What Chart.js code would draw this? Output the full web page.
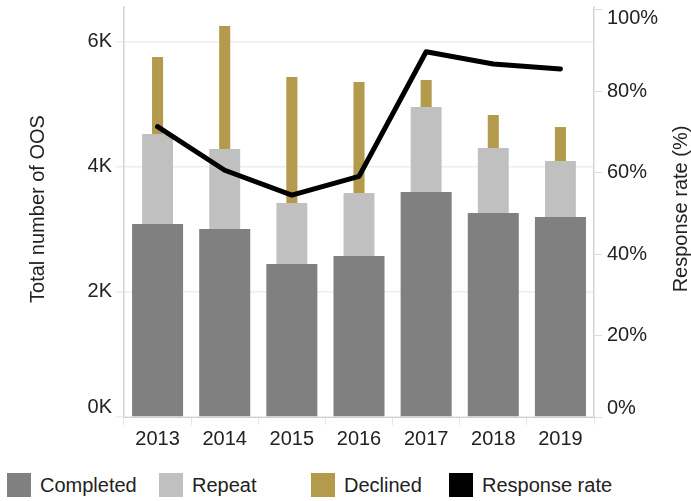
<!DOCTYPE html>
<html>
<head>
<meta charset="utf-8">
<script src="https://cdn.jsdelivr.net/npm/chart.js@4"></script>
<style>
  body { margin: 0; background: #fff; font-family: "Liberation Sans", Arial, sans-serif; }
  #wrap { position: relative; width: 691px; height: 501px; }
  #legend { position: absolute; top: 473px; left: 0; width: 691px; height: 26px; }
  .item { position: absolute; top: 0; display: flex; align-items: center; font-size: 20px; color: #222; }
  .box { width: 24px; height: 24px; margin-right: 9px; }
</style>
</head>
<body>
<div id="wrap">
  <canvas id="myChart" width="691" height="460"></canvas>
  <div id="legend"></div>
</div>
<script>
// Data
const years = ['2013', '2014', '2015', '2016', '2017', '2018', '2019'];
const completed = [3082, 3002, 2443, 2571, 3593, 3258, 3194];
const repeat = [1438, 1278, 975, 1006, 1358, 1038, 894];
const declined = [1229, 1964, 2012, 1773, 431, 527, 543];
const responseRate = [71.3, 60.6, 54.5, 59.1, 89.7, 86.7, 85.5];
const countTicks = [0, 2000, 4000, 6000];
const rateTicks = [0, 20, 40, 60, 80, 100];

const colors = {
    completed: '#808080',
    repeat: '#c0c0c0',
    declined: '#b39a4d',
    rate: '#000000'
};

const font = "'Liberation Sans', Arial, sans-serif";

// Les étiquettes aux extrémités sont décalées vers l'intérieur (ligne vide en plus)
function edgeLabel(text, value, min, max) {
    if (value === min) return [text, ''];
    if (value === max) return ['', text];
    return text;
}

// Titres des axes (le titre de droite se lit de bas en haut)
const axisTitles = {
    id: 'axisTitles',
    afterDraw(chart) {
        const ctx = chart.ctx;
        const mid = (chart.chartArea.top + chart.chartArea.bottom) / 2;
        ctx.save();
        ctx.font = '20px ' + font;
        ctx.fillStyle = '#222';
        ctx.textAlign = 'center';
        ctx.textBaseline = 'middle';
        [[38, 'Total number of OOS'], [681, 'Response rate (%)']].forEach(([x, t]) => {
            ctx.save();
            ctx.translate(x, mid - 3);
            ctx.rotate(-Math.PI / 2);
            ctx.fillText(t, 0, 0);
            ctx.restore();
        });
        ctx.restore();
    }
};

const ctx = document.getElementById('myChart').getContext('2d');
new Chart(ctx, {
    type: 'bar',
    data: {
        labels: years,
        datasets: [
            { label: 'Completed', data: completed, backgroundColor: colors.completed, barPercentage: 0.76, categoryPercentage: 1, order: 1 },
            { label: 'Repeat', data: repeat, backgroundColor: colors.repeat, barPercentage: 0.46, categoryPercentage: 1, order: 1 },
            { label: 'Declined', data: declined, backgroundColor: colors.declined, barPercentage: 0.165, categoryPercentage: 1, order: 1 },
            {
                type: 'line', label: 'Response rate', data: responseRate, yAxisID: 'y1',
                borderColor: colors.rate, borderWidth: 5, pointRadius: 0, tension: 0,
                borderCapStyle: 'round', borderJoinStyle: 'round', order: 0
            }
        ]
    },
    options: {
        responsive: false,
        animation: false,
        layout: { padding: { top: 7, left: 0, right: 0, bottom: 0 } },
        plugins: { legend: { display: false }, tooltip: { enabled: false } },
        scales: {
            x: {
                stacked: true,
                afterFit: s => { s.height = 43; s.paddingLeft = 0; s.paddingRight = 0; },
                grid: { drawOnChartArea: false, drawTicks: true, tickLength: 8, color: '#e6e6e6' },
                border: { color: '#cfcfcf', dash: [2, 2] },
                ticks: { font: { size: 20, family: font }, color: '#222', padding: 2 }
            },
            y: {
                stacked: true,
                position: 'left',
                min: 0,
                max: 6548,
                afterBuildTicks: s => { s.ticks = countTicks.map(v => ({ value: v })); },
                afterFit: s => { s.width = 124; s.paddingTop = 0; s.paddingBottom = 0; },
                grid: { color: '#eeeeee', lineWidth: 1.5, tickLength: 8 },
                border: { color: '#d4d4d4', width: 1.5 },
                ticks: {
                    padding: 4,
                    font: { size: 20, family: font, lineHeight: '19px' }, color: '#222',
                    callback: v => edgeLabel((v / 1000) + 'K', v, 0, -1)
                }
            },
            y1: {
                position: 'right',
                min: 0,
                max: 100.7,
                afterBuildTicks: s => { s.ticks = rateTicks.map(v => ({ value: v })); },
                afterFit: s => { s.width = 97; s.paddingTop = 0; s.paddingBottom = 0; },
                grid: { drawOnChartArea: false, color: '#dddddd', tickLength: 8 },
                border: { color: '#d4d4d4', width: 1.5 },
                ticks: {
                    padding: 5,
                    font: { size: 20, family: font, lineHeight: '18px' }, color: '#222',
                    callback: v => edgeLabel(v + '%', v, 0, 100)
                }
            }
        }
    },
    plugins: [axisTitles]
});

// Légende HTML
const legendItems = [
    ['Completed', colors.completed, 7],
    ['Repeat', colors.repeat, 159],
    ['Declined', colors.declined, 311],
    ['Response rate', colors.rate, 449]
];
const legend = document.getElementById('legend');
legendItems.forEach(([name, color, left]) => {
    const el = document.createElement('div');
    el.className = 'item';
    el.style.left = left + 'px';
    el.innerHTML = '<span class="box" style="background:' + color + '"></span><span>' + name + '</span>';
    legend.appendChild(el);
});
</script>
</body>
</html>
